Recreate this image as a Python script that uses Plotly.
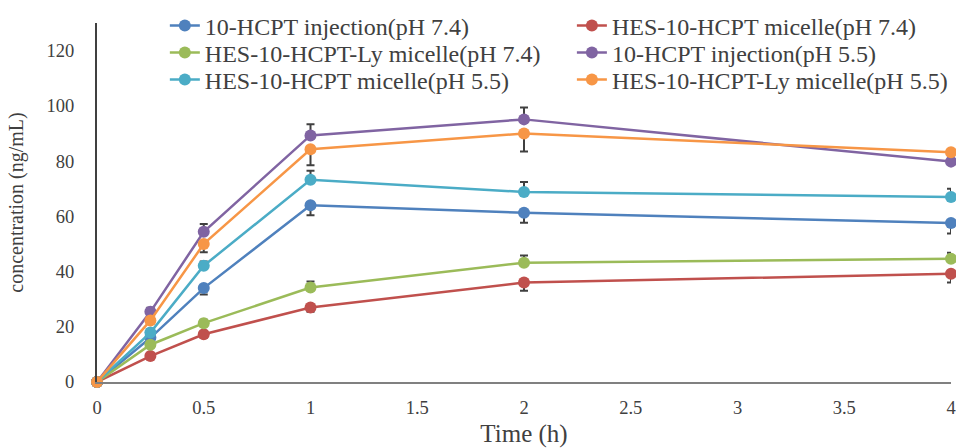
import plotly.graph_objects as go

time_h = [0, 0.25, 0.5, 1, 2, 4]

series_names = [
    "10-HCPT injection(pH 7.4)",
    "HES-10-HCPT micelle(pH 7.4)",
    "HES-10-HCPT-Ly micelle(pH 7.4)",
    "10-HCPT injection(pH 5.5)",
    "HES-10-HCPT micelle(pH 5.5)",
    "HES-10-HCPT-Ly micelle(pH 5.5)",
]

inj_74 = [0, 16, 34, 64, 61.3, 57.6]
mic_74 = [0, 9.4, 17.3, 27, 36, 39.2]
ly_74 = [0, 13.5, 21.3, 34.2, 43.2, 44.6]
inj_55 = [0, 25.4, 54.4, 89.3, 95.1, 79.8]
mic_55 = [0, 17.9, 42.1, 73.2, 68.8, 67]
ly_55 = [0, 22.3, 50, 84.3, 90, 83.2]

# error bars (only one side visible in the original)
err_inj_74 = [0, 1.5, 2.3, 3.6, 3.6, 3.8]
err_mic_74 = [0, 1.0, 1.2, 1.6, 3.0, 3.2]
err_ly_74 = [0, 1.0, 1.2, 2.2, 2.6, 2.2]
err_inj_55 = [0, 1.5, 2.8, 4.0, 4.3, 2.5]
err_mic_55 = [0, 1.2, 1.5, 3.3, 3.6, 3.0]
err_ly_55 = [0, 1.2, 3.0, 5.8, 6.5, 1.0]

values = [inj_74, mic_74, ly_74, inj_55, mic_55, ly_55]
errors = [err_inj_74, err_mic_74, err_ly_74, err_inj_55, err_mic_55, err_ly_55]
err_up = [False, False, True, True, True, False]
colors = ["#4F81BD", "#C0504D", "#9BBB59", "#8064A2", "#4BACC6", "#F79646"]
legend_ids = ["legend", "legend2", "legend3", "legend4", "legend5", "legend6"]

x_ticks = [0, 0.5, 1, 1.5, 2, 2.5, 3, 3.5, 4]
x_tick_text = ["0", "0.5", "1", "1.5", "2", "2.5", "3", "3.5", "4"]
y_ticks = [0, 20, 40, 60, 80, 100, 120]

SERIF = "Liberation Serif"
TXT = "#404040"

fig = go.Figure()
for name, vals, errs, up, col, lg in zip(series_names, values, errors, err_up, colors, legend_ids):
    zeros = [0] * len(errs)
    fig.add_trace(go.Scatter(
        x=time_h, y=vals, name=name, mode="lines+markers",
        line=dict(color=col, width=2.5),
        marker=dict(color=col, size=12),
        error_y=dict(type="data", symmetric=False,
                     array=errs if up else zeros,
                     arrayminus=zeros if up else errs,
                     color="#404040", thickness=2, width=4),
        cliponaxis=False,
        legend=lg,
    ))

legend_common = dict(
    orientation="h", xanchor="left", yanchor="middle",
    font=dict(family=SERIF, size=24, color=TXT),
    bgcolor="rgba(0,0,0,0)",
    itemclick=False, itemdoubleclick=False,
)

# plot area: left 97, right 953, top 22, bottom 382 (px)
col_x = [(165 - 97) / 856, (573 - 97) / 856]
row_y = [(382 - 25) / 360, (382 - 52) / 360, (382 - 79) / 360]

fig.update_layout(
    width=956, height=448,
    margin=dict(l=97, r=3, t=22, b=66),
    paper_bgcolor="white", plot_bgcolor="white",
    font=dict(family=SERIF, color=TXT),
    showlegend=True,
    legend=dict(x=col_x[0], y=row_y[0], **legend_common),
    legend2=dict(x=col_x[1], y=row_y[0], **legend_common),
    legend3=dict(x=col_x[0], y=row_y[1], **legend_common),
    legend4=dict(x=col_x[1], y=row_y[1], **legend_common),
    legend5=dict(x=col_x[0], y=row_y[2], **legend_common),
    legend6=dict(x=col_x[1], y=row_y[2], **legend_common),
    xaxis=dict(
        range=[0, 4], tickvals=x_ticks, ticktext=x_tick_text,
        showgrid=False, zeroline=False, showline=True,
        linecolor="#808080", linewidth=2, ticks="",
        ticklabelstandoff=8, ticklabeloverflow="allow", automargin=False,
        tickfont=dict(family=SERIF, size=18.5, color=TXT),
        title=dict(text="Time (h)", font=dict(family=SERIF, size=25, color=TXT), standoff=18),
    ),
    yaxis=dict(
        range=[0, 130], tickvals=y_ticks,
        showgrid=False, zeroline=False, showline=True,
        linecolor="#404040", linewidth=2, ticks="",
        ticklabelstandoff=17, automargin=False,
        tickfont=dict(family=SERIF, size=18.5, color=TXT),
        title=dict(text="concentration (ng/mL)", font=dict(family=SERIF, size=20, color=TXT), standoff=18),
    ),
)

fig.write_html(
    "out.html",
    config={"displayModeBar": False},
    post_script="document.body.style.margin='0';document.body.style.overflow='hidden';",
)
